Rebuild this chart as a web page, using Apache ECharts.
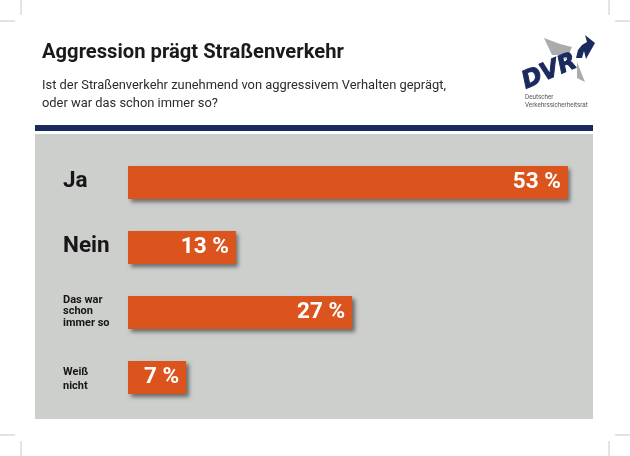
<!DOCTYPE html>
<html>
<head>
<meta charset="utf-8">
<style>html,body{margin:0;padding:0;background:#fff}#main{width:630px;height:456px}</style>
<script src="https://cdn.jsdelivr.net/npm/echarts@6/dist/echarts.min.js"></script>
</head>
<body>
<div id="main"></div>
<script>
const categories = ['Ja', 'Nein', 'Das war\nschon\nimmer so', 'Weiß\nnicht'];
const values = [53, 13, 27, 7];
const titleText = 'Aggression prägt Straßenverkehr';
const subtitleText = 'Ist der Straßenverkehr zunehmend von aggressivem Verhalten geprägt,\noder war das schon immer so?';
const logoCaption = 'Deutscher\nVerkehrssicherheitsrat';

const fontName = 'Roboto, "Noto Sans", sans-serif';

// Schnittmarken an den Ecken
const cropMarks = [
  [0, 21, 15, 21], [21, 0, 21, 15], [615, 21, 630, 21], [609, 0, 609, 15],
  [0, 435, 15, 435], [21, 441, 21, 456], [615, 435, 630, 435], [609, 441, 609, 456]
].map(p => ({
  type: 'line', silent: true,
  shape: { x1: p[0], y1: p[1], x2: p[2], y2: p[3] },
  style: { stroke: '#c9c9c9', lineWidth: 1 }
}));

const option = {
  backgroundColor: '#fff',
  animation: false,
  textStyle: { fontFamily: fontName },
  grid: { left: 128, top: 150, width: 498, height: 260 },
  xAxis: { type: 'value', min: 0, max: 60, show: false },
  yAxis: {
    type: 'category',
    data: categories,
    inverse: true,
    axisLine: { show: false },
    axisTick: { show: false },
    axisLabel: {
      margin: 65,
      align: 'left',
      formatter: v => {
        const lines = v.split('\n');
        const style = lines.length === 1 ? 'big' : lines.length === 2 ? 'wide' : 'small';
        return lines.map(l => `{${style}|${l}}`).join('\n');
      },
      rich: {
        big: { fontSize: 22.5, fontWeight: 'bold', color: '#161616', fontFamily: fontName, padding: [0, 0, 3, 0] },
        small: { fontSize: 11, fontWeight: 'bold', color: '#161616', lineHeight: 11.5, fontFamily: fontName, padding: [0, 0, 2, 0] },
        wide: { fontSize: 11, fontWeight: 'bold', color: '#161616', lineHeight: 14, fontFamily: fontName, padding: [4, 0, 0, 0] }
      }
    }
  },
  series: [{
    type: 'bar',
    data: values,
    barWidth: 33,
    itemStyle: {
      color: '#db541e',
      shadowColor: 'rgba(40,40,40,0.6)',
      shadowBlur: 4,
      shadowOffsetX: 2.5,
      shadowOffsetY: 2.5
    },
    label: {
      show: true,
      position: 'insideRight',
      distance: 7,
      formatter: '{c} %',
      color: '#fff',
      fontSize: 22.5,
      fontWeight: 'bold',
      fontFamily: fontName
    }
  }],
  graphic: [
    ...cropMarks,
    { type: 'text', silent: true, left: 42, top: 43, style: { text: titleText, font: `bold 20.2px ${fontName}`, fill: '#1a1a1a' } },
    { type: 'text', silent: true, left: 42, top: 77, style: { text: subtitleText, font: `12.9px ${fontName}`, fill: '#2b2b2b', lineHeight: 18 } },
    // blauer Balken und graue Fläche
    { type: 'rect', silent: true, z: -1, shape: { x: 35, y: 125, width: 558, height: 6 }, style: { fill: '#1b2a5e' } },
    { type: 'rect', silent: true, z: -1, shape: { x: 35, y: 134, width: 558, height: 285 }, style: { fill: '#cdcfcc' } },
    // DVR Logo
    { type: 'polygon', silent: true, shape: { points: [[544, 38], [560, 44], [572, 47], [566, 60], [562, 55], [552, 55]] }, style: { fill: '#a9abad' } },
    { type: 'polygon', silent: true, shape: { points: [[577, 62], [585, 82], [577, 78]] }, style: { fill: '#a9abad' } },
    { type: 'polygon', silent: true, shape: { points: [[585, 35], [595, 43], [586, 59], [584, 51], [582, 58], [576, 58], [578, 50], [582, 45], [587, 42]] }, style: { fill: '#1b2a5e' } },
    { type: 'text', silent: true, x: 528, y: 94, rotation: 0.4,
      style: { text: 'DVR', font: `italic bold 24px "DejaVu Sans", ${fontName}`, fill: '#1b2a5e', stroke: '#1b2a5e', lineWidth: 1, verticalAlign: 'bottom' } },
    { type: 'text', silent: true, left: 525, top: 93, style: { text: logoCaption, font: `6.3px ${fontName}`, fill: '#555', lineHeight: 8 } }
  ]
};

const chartDom = document.getElementById('main');
const myChart = echarts.init(chartDom);
myChart.setOption(option);
</script>
</body>
</html>
